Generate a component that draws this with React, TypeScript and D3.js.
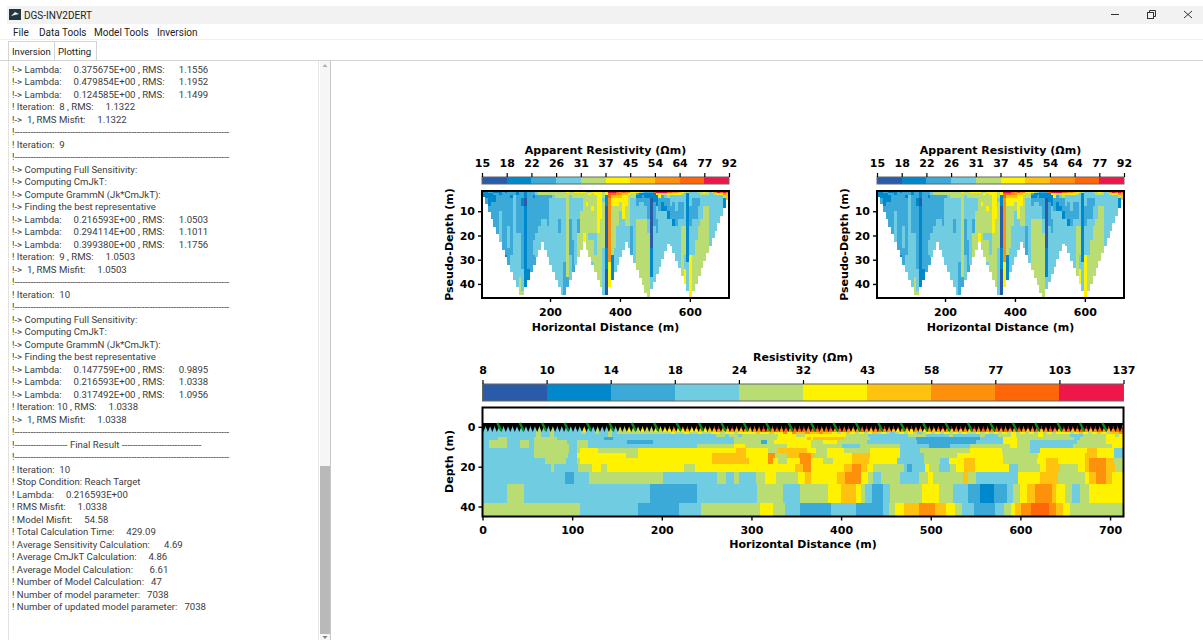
import React, { useEffect, useRef } from "react";
import * as d3 from "d3";

const classColors = ["#2a5ba8", "#0088cc", "#3baad8", "#70cce0", "#b9dd72", "#fff200", "#ffc20e", "#ff900c", "#ff660a", "#ef1749"];
const apparentTicks = [15, 18, 22, 26, 31, 37, 45, 54, 64, 77, 92];
const modelTicks = [8, 10, 14, 18, 24, 32, 43, 58, 77, 103, 137];

// pseudosection: one string per station column, one digit per depth bin, last digit carries on down
const pseudoDepthEdges = [1.65, 2.5, 3.5, 4.5, 6, 8, 10, 13, 16, 19, 22, 25, 28, 31, 34, 37, 40, 43, 46];
const spreadCentres = [118, 238, 358, 480, 602];
const pseudoColumns = [
  "1112", "11122", "21111222", "211122", "1211222", "1222", "1122223333332", "2222",
  "1222222222221", "2222222233322", "2212222222223", "2233333333333", "1122222223333", "2222222223333334", "222112222222223334", "11100111111111111",
  "2222222222222211", "22222222222222", "22122222223322", "332222222333", "442222223", "4422222333", "44222223333", "4422222233",
  "4423333333", "4433333333", "44433333333333", "444333322333333", "4443333333333333", "44433333333332", "54444444444444422", "4433333222223",
  "44433333332", "5443333333", "5443333224", "5443334444", "5444444445", "44445444444", "45444444434", "544445444344433",
  "55444444433344", "5555555554444444", "55555554444444444", "44434444444333333", "551110000001110000", "98877777777775555", "98655444444411", "9865544444433",
  "8765544433", "7765443", "86555553", "7655544433", "7544444433", "5443333322", "54433333333", "521223344444",
  "411233344444444", "312233344444444", "211223344444444444", "211222233444444", "21100000000111133", "811122223333", "9511133223", "95522233",
  "9422113", "9432213", "854222133", "85333223", "75332221333", "7533332233", "6533222333", "5433222344",
  "4333333344443355", "41111111111113", "33333222333355555", "33322223333344", "33322223334", "4332233344", "443333344", "5433344",
  "4433344", "33333", "4333", "7433", "9533", "8533", "9741", "86",
];

// inverted model: the four shallow layers, one digit per 5 m of line
const shallowEdges = [0, 1.3, 2.5, 3.5, 5];
const shallowRows = [
  "3333333333334334333333533433535465465465678678678678978978978898898989998998899989898989898987897897889898989989898989898989989989989898989898989",
  "3333333333334334333333533433434454454454556556556566766766767788787878887887887887678767877657657657676767676778778787787678678767867876787678878",
  "3333333333334334333333433433434444444444445445445445545545555655655757667667665456545456454345454345454545454454545454545454545455545654565466767",
  "3333333333334334333333333333433333333333333333333333443443444444445555445555555554444433333333344443333343333334333444544444544444433344444554555",
];

// deeper layers: [class, right edge in metres] per layer
const layerEdges = [5, 6.5, 8.5, 10.5, 13, 15.5, 18.5, 22.5, 28.5, 38, 45];
const layerRuns: [number, number][][] = [
  [[3, 17], [4, 27], [3, 58], [4, 83], [3, 135], [2, 146], [3, 280], [4, 329], [5, 362], [6, 366], [5, 369], [6, 403], [4, 432], [3, 484], [2, 555], [3, 581], [5, 596], [4, 660], [3, 667], [4, 696], [5, 715]],
  [[3, 7], [4, 27], [3, 42], [4, 52], [3, 58], [4, 94], [3, 105], [4, 118], [3, 161], [2, 190], [3, 280], [4, 311], [2, 317], [4, 325], [5, 366], [4, 380], [5, 395], [4, 429], [3, 485], [2, 550], [3, 581], [5, 596], [4, 611], [3, 663], [4, 696], [5, 715]],
  [[3, 7], [4, 27], [3, 42], [4, 52], [3, 58], [4, 97], [3, 105], [4, 118], [3, 239], [4, 281], [5, 293], [4, 340], [5, 366], [4, 401], [3, 421], [4, 466], [3, 498], [2, 522], [3, 544], [4, 588], [5, 596], [4, 611], [3, 659], [4, 702], [5, 715]],
  [[3, 58], [4, 97], [3, 105], [4, 109], [5, 129], [4, 174], [5, 239], [4, 239], [5, 283], [6, 294], [5, 318], [4, 330], [6, 362], [5, 372], [4, 384], [5, 403], [4, 432], [5, 466], [3, 488], [4, 544], [5, 579], [4, 611], [3, 622], [5, 674], [6, 685], [5, 704], [3, 715]],
  [[3, 58], [4, 95], [3, 105], [5, 160], [4, 174], [5, 256], [6, 294], [5, 318], [7, 326], [4, 340], [6, 353], [7, 366], [6, 370], [4, 384], [5, 412], [6, 432], [5, 466], [3, 492], [4, 529], [5, 581], [4, 620], [5, 672], [6, 685], [5, 704], [3, 715]],
  [[3, 70], [4, 93], [3, 105], [4, 109], [5, 256], [6, 297], [5, 318], [7, 324], [5, 330], [4, 340], [5, 354], [7, 366], [5, 380], [4, 391], [5, 412], [6, 431], [5, 462], [3, 492], [4, 510], [3, 520], [5, 537], [6, 549], [5, 581], [4, 618], [5, 629], [6, 642], [5, 672], [6, 677], [7, 695], [6, 704], [4, 715]],
  [[3, 76], [4, 80], [3, 107], [4, 122], [5, 132], [4, 139], [5, 225], [4, 237], [5, 349], [6, 358], [7, 366], [5, 403], [6, 412], [7, 422], [6, 429], [5, 436], [4, 470], [3, 474], [2, 479], [3, 494], [5, 498], [4, 509], [3, 522], [4, 528], [5, 537], [6, 549], [5, 587], [3, 597], [4, 622], [5, 629], [6, 644], [4, 664], [5, 672], [6, 677], [7, 695], [6, 705], [4, 715]],
  [[3, 92], [2, 102], [3, 119], [4, 201], [3, 262], [4, 272], [3, 281], [4, 286], [3, 305], [4, 315], [5, 327], [4, 352], [5, 360], [6, 366], [5, 395], [6, 404], [7, 422], [5, 430], [4, 436], [3, 444], [4, 466], [3, 487], [4, 497], [5, 503], [4, 536], [6, 542], [4, 551], [3, 597], [5, 622], [6, 642], [4, 672], [5, 677], [6, 684], [7, 695], [6, 702], [5, 715]],
  [[3, 27], [4, 46], [3, 187], [2, 239], [3, 306], [4, 335], [3, 354], [4, 385], [5, 400], [6, 417], [5, 422], [4, 427], [3, 434], [2, 447], [3, 455], [4, 490], [5, 509], [4, 525], [3, 542], [2, 555], [1, 570], [2, 585], [3, 592], [4, 600], [5, 607], [6, 616], [7, 635], [6, 640], [5, 650], [4, 657], [3, 666], [4, 677], [5, 715]],
  [[4, 109], [3, 174], [2, 219], [3, 244], [4, 309], [5, 324], [4, 337], [3, 354], [2, 389], [3, 417], [2, 447], [3, 453], [4, 460], [5, 470], [6, 487], [7, 505], [6, 517], [5, 527], [4, 535], [3, 548], [2, 572], [3, 582], [4, 590], [5, 594], [6, 601], [7, 612], [8, 632], [7, 640], [6, 647], [5, 655], [4, 715]],
];

const rule = "!" + "-".repeat(81);
const logLines = [
  "!-> Lambda:     0.375675E+00 , RMS:      1.1556",
  "!-> Lambda:     0.479854E+00 , RMS:      1.1952",
  "!-> Lambda:     0.124585E+00 , RMS:      1.1499",
  "! Iteration:  8 , RMS:     1.1322",
  "!->  1, RMS Misfit:     1.1322",
  rule,
  "! Iteration:  9",
  rule,
  "!-> Computing Full Sensitivity:",
  "!-> Computing CmJkT:",
  "!-> Compute GrammN (Jk*CmJkT):",
  "!-> Finding the best representative",
  "!-> Lambda:     0.216593E+00 , RMS:      1.0503",
  "!-> Lambda:     0.294114E+00 , RMS:      1.1011",
  "!-> Lambda:     0.399380E+00 , RMS:      1.1756",
  "! Iteration:  9 , RMS:     1.0503",
  "!->  1, RMS Misfit:     1.0503",
  rule,
  "! Iteration:  10",
  rule,
  "!-> Computing Full Sensitivity:",
  "!-> Computing CmJkT:",
  "!-> Compute GrammN (Jk*CmJkT):",
  "!-> Finding the best representative",
  "!-> Lambda:     0.147759E+00 , RMS:      0.9895",
  "!-> Lambda:     0.216593E+00 , RMS:      1.0338",
  "!-> Lambda:     0.317492E+00 , RMS:      1.0956",
  "! Iteration: 10 , RMS:     1.0338",
  "!->  1, RMS Misfit:     1.0338",
  rule,
  "!-------------------- Final Result ------------------------------",
  rule,
  "! Iteration:  10",
  "! Stop Condition: Reach Target",
  "! Lambda:     0.216593E+00",
  "! RMS Misfit:     1.0338",
  "! Model Misfit:     54.58",
  "! Total Calculation Time:     429.09",
  "! Average Sensitivity Calculation:      4.69",
  "! Average CmJkT Calculation:     4.86",
  "! Average Model Calculation:       6.61",
  "! Number of Model Calculation:   47",
  "! Number of model parameter:   7038",
  "! Number of updated model parameter:   7038",
];

const menuItems: [string, number][] = [["File", 13], ["Data Tools", 39], ["Model Tools", 94], ["Inversion", 157]];
const tabItems: [string, number, number][] = [["Inversion", 8, 46], ["Plotting", 54, 42]];

const plotFont = "DejaVu Sans";
const plotSize = 11;
const uiFont = "Roboto, 'Noto Sans', sans-serif";

function styleAxis(g: any, strokeW = 1.4) {
  g.selectAll("text").attr("font-family", plotFont).attr("font-weight", "bold").attr("font-size", plotSize).attr("fill", "#000");
  g.selectAll("line").attr("stroke", "#000").attr("stroke-width", strokeW);
  g.select(".domain").remove();
}

function label(svg: any, text: string, x: number, y: number, rotate = false) {
  svg.append("text")
    .attr("transform", `translate(${x},${y})${rotate ? " rotate(-90)" : ""}`)
    .attr("text-anchor", "middle")
    .attr("font-family", plotFont)
    .attr("font-weight", "bold")
    .attr("font-size", plotSize)
    .text(text);
}

function colorbar(svg: any, ticks: number[], x0: number, x1: number, y0: number, y1: number, title: string) {
  const pos = d3.scalePoint<number>().domain(ticks).range([x0, x1]);
  svg.append("g").attr("shape-rendering", "crispEdges").selectAll("rect")
    .data(ticks.slice(0, -1))
    .join("rect")
    .attr("x", (d: number) => pos(d)!)
    .attr("y", y0)
    .attr("width", (x1 - x0) / (ticks.length - 1) + 0.3)
    .attr("height", y1 - y0)
    .attr("fill", (_: number, i: number) => classColors[i]);
  svg.append("rect").attr("x", x0).attr("y", y0).attr("width", x1 - x0).attr("height", y1 - y0)
    .attr("fill", "none").attr("stroke", "#666").attr("stroke-width", 1);
  const axis = svg.append("g").attr("transform", `translate(0,${y0})`)
    .call(d3.axisTop(pos).tickSize(4).tickPadding(6));
  styleAxis(axis, 1.2);
  label(svg, title, (x0 + x1) / 2, y0 - 23);
}

function pseudosection(svg: any, dx: number) {
  const x = d3.scaleLinear().domain([5.4, 712]).range([482 + dx, 729 + dx]);
  const y = d3.scaleLinear().domain([1.65, 45.8]).range([191, 298]);
  const limit = (m: number) => d3.max(spreadCentres, (c) => 46 * (1 - Math.abs(m - c) / 118))!;
  const plot = svg.append("g").attr("shape-rendering", "crispEdges");
  pseudoColumns.forEach((col, i) => {
    const left = 6 + 8 * i;
    const bottom = Math.min(limit(left + 4), 45.8);
    for (let b = 0; b < pseudoDepthEdges.length - 1; b++) {
      const top = pseudoDepthEdges[b];
      if (top >= bottom) break;
      const c = +(col[b] ?? col[col.length - 1]);
      plot.append("rect")
        .attr("x", x(left))
        .attr("y", y(top))
        .attr("width", x(left + 8) - x(left) + 0.2)
        .attr("height", y(Math.min(pseudoDepthEdges[b + 1], bottom)) - y(top) + 0.2)
        .attr("fill", classColors[c]);
    }
  });
  svg.append("rect").attr("x", 482 + dx).attr("y", 191).attr("width", 247).attr("height", 107)
    .attr("fill", "none").attr("stroke", "#000").attr("stroke-width", 2);
  const xa = svg.append("g").attr("transform", "translate(0,298)")
    .call(d3.axisBottom(x).tickValues([200, 400, 600]).tickSize(4).tickPadding(6));
  styleAxis(xa);
  const ya = svg.append("g").attr("transform", `translate(${482 + dx},0)`)
    .call(d3.axisLeft(y).tickValues([10, 20, 30, 40]).tickSize(4).tickPadding(3));
  styleAxis(ya);
  label(svg, "Horizontal Distance (m)", 605.5 + dx, 331);
  label(svg, "Pseudo-Depth (m)", 453 + dx, 244.5, true);
  colorbar(svg, apparentTicks, 482 + dx, 729 + dx, 177, 184, "Apparent Resistivity (Ωm)");
}

function modelSection(svg: any) {
  const x = d3.scaleLinear().domain([0, 715]).range([482.5, 1123.5]);
  const y = d3.scaleLinear().domain([-9.7, 45]).range([407.5, 516.5]);
  const plot = svg.append("g");
  const cells = plot.append("g").attr("shape-rendering", "crispEdges");
  shallowRows.forEach((row, r) => {
    row.split("").forEach((ch, i) => {
      if (i * 5 >= 715) return;
      cells.append("rect")
        .attr("x", x(i * 5)).attr("y", y(shallowEdges[r]))
        .attr("width", x(5) - x(0) + 0.2)
        .attr("height", y(shallowEdges[r + 1]) - y(shallowEdges[r]) + 0.2)
        .attr("fill", classColors[+ch]);
    });
  });
  layerRuns.forEach((runs, r) => {
    let start = 0;
    runs.forEach(([c, end]) => {
      cells.append("rect")
        .attr("x", x(start)).attr("y", y(layerEdges[r]))
        .attr("width", x(end) - x(start) + 0.2)
        .attr("height", y(layerEdges[r + 1]) - y(layerEdges[r]) + 0.2)
        .attr("fill", classColors[c]);
      start = end;
    });
  });

  // electrodes along the surface
  const line = d3.line<[number, number]>().x((d) => x(d[0])).y((d) => y(d[1]));
  d3.range(1, 715, 5).forEach((e) => {
    plot.append("path")
      .attr("d", line([[Math.max(e - 4, 0), -1.9], [Math.min(e + 4, 715), -1.9], [e, 2.6]])! + "Z")
      .attr("fill", "#000");
  });
  d3.range(18.5, 700, 25).forEach((e) => {
    plot.append("path")
      .attr("d", line([[e - 2, -1.9], [e + 2.5, 2]]))
      .attr("stroke", "#078a1c").attr("stroke-width", 2.4).attr("fill", "none");
  });

  svg.append("rect").attr("x", 482.5).attr("y", 407.5).attr("width", 641).attr("height", 109)
    .attr("fill", "none").attr("stroke", "#000").attr("stroke-width", 2);
  const xa = svg.append("g").attr("transform", "translate(0,516.5)")
    .call(d3.axisBottom(x).tickValues([0, 100, 200, 300, 400, 500, 600, 700]).tickSize(4).tickPadding(6));
  styleAxis(xa);
  const ya = svg.append("g").attr("transform", "translate(482.5,0)")
    .call(d3.axisLeft(y).tickValues([0, 20, 40]).tickSize(4).tickPadding(3));
  styleAxis(ya);
  label(svg, "Horizontal Distance (m)", 803, 548);
  label(svg, "Depth (m)", 453, 461.5, true);
  colorbar(svg, modelTicks, 482.5, 1123.5, 384, 401, "Resistivity (Ωm)");
}

function windowChrome(svg: any) {
  svg.append("rect").attr("width", 1203).attr("height", 640).attr("fill", "#fff");
  svg.append("rect").attr("x", 7).attr("y", 6).attr("width", 1196).attr("height", 18).attr("fill", "#f2f2f2");
  svg.append("rect").attr("x", 9).attr("y", 9).attr("width", 12).attr("height", 11).attr("fill", "#24363f");
  svg.append("path").attr("d", "M11 16 L15 12 L19 14 L15 15 Z").attr("fill", "#e8eef0");
  const ui = (t: string, x: number, y: number, size = 10.5, fill = "#222") =>
    svg.append("text").attr("x", x).attr("y", y).attr("font-family", uiFont).attr("font-size", size).attr("fill", fill)
      .attr("xml:space", "preserve").style("white-space", "pre").text(t);
  ui("DGS-INV2DERT", 24, 19, 10);
  menuItems.forEach(([t, x]) => ui(t, x, 36, 10));
  svg.append("line").attr("x1", 0).attr("x2", 1203).attr("y1", 39.5).attr("y2", 39.5).attr("stroke", "#f0f0f0");
  svg.append("line").attr("x1", 0).attr("x2", 1203).attr("y1", 60.5).attr("y2", 60.5).attr("stroke", "#d4d4d4");
  tabItems.forEach(([t, x, w]) => {
    svg.append("rect").attr("x", x + 0.5).attr("y", 41.5).attr("width", w).attr("height", 19).attr("fill", "#fff").attr("stroke", "#d4d4d4");
    ui(t, x + 4, 55, 9.6);
  });
  // minimise, restore, close
  svg.append("line").attr("x1", 1111).attr("x2", 1119).attr("y1", 14.5).attr("y2", 14.5).attr("stroke", "#333");
  svg.append("rect").attr("x", 1147.5).attr("y", 12.5).attr("width", 6).attr("height", 6).attr("fill", "none").attr("stroke", "#333");
  svg.append("path").attr("d", "M1149.5 12 V10.5 H1155.5 V16.5 H1154").attr("fill", "none").attr("stroke", "#333");
  svg.append("path").attr("d", "M1184 11 L1192 18 M1192 11 L1184 18").attr("fill", "none").attr("stroke", "#333");

  // log panel and scrollbar
  svg.append("line").attr("x1", 8.5).attr("x2", 8.5).attr("y1", 61).attr("y2", 640).attr("stroke", "#e2e2e2");
  svg.append("rect").attr("x", 320).attr("y", 61).attr("width", 10).attr("height", 579).attr("fill", "#f6f6f6");
  svg.append("rect").attr("x", 320).attr("y", 466).attr("width", 10).attr("height", 168).attr("fill", "#b9b9b9");
  svg.append("line").attr("x1", 330.5).attr("x2", 330.5).attr("y1", 61).attr("y2", 640).attr("stroke", "#c8c8c8");
  svg.append("line").attr("x1", 318.5).attr("x2", 318.5).attr("y1", 61).attr("y2", 640).attr("stroke", "#e6e6e6");
  svg.append("path").attr("d", "M322.5 67 L325 64 L327.5 67 Z").attr("fill", "#b0b0b0");
  svg.append("path").attr("d", "M322.5 636 L325 639 L327.5 636 Z").attr("fill", "#808080");
  logLines.forEach((t, i) => ui(t, 12, 72.5 + i * 12.5, 9.6, "#3c3c3c"));
}

export default function App() {
  const ref = useRef<SVGSVGElement>(null);
  useEffect(() => {
    const svg = d3.select(ref.current);
    svg.selectAll("*").remove();
    windowChrome(svg);
    pseudosection(svg, 0);
    pseudosection(svg, 395);
    modelSection(svg);
  }, []);
  return <svg ref={ref} width={1203} height={640} style={{ position: "fixed", left: 0, top: 0, display: "block" }} />;
}
